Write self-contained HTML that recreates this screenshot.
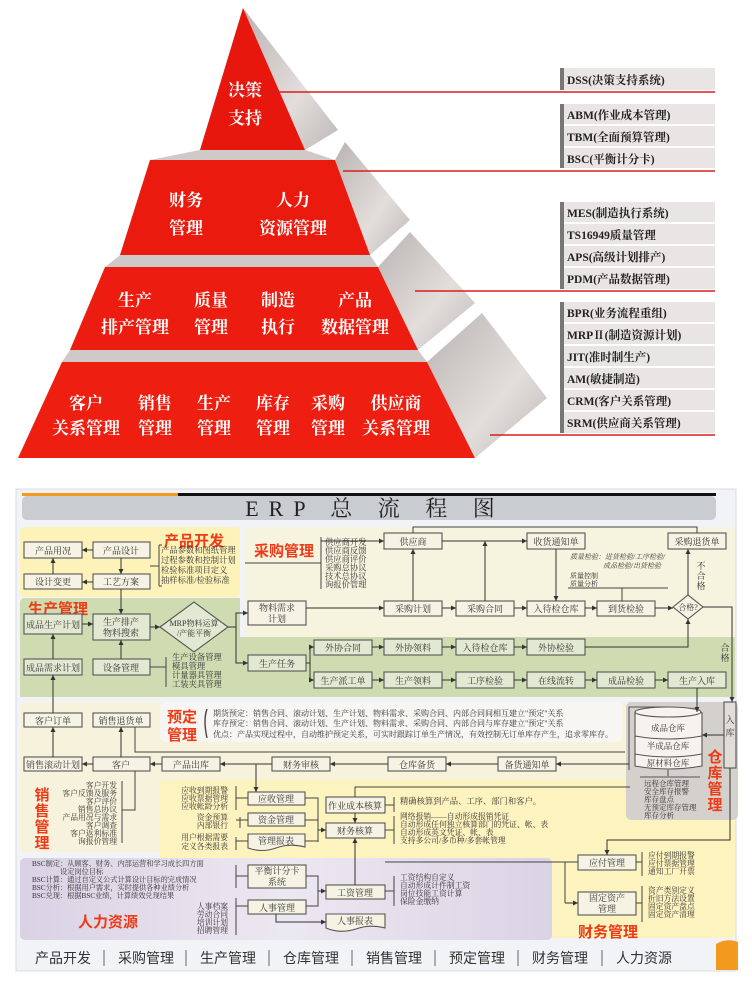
<!DOCTYPE html>
<html><head><meta charset="utf-8"><style>
html,body{margin:0;padding:0;background:#fff;}
svg{display:block;}
.s{font-family:"Liberation Serif","Noto Serif CJK SC",serif;}
.h{font-family:"Liberation Sans","Noto Sans CJK SC",sans-serif;}
</style></head><body>
<svg width="752" height="982" viewBox="0 0 752 982" xmlns="http://www.w3.org/2000/svg">
<defs>
<marker id="a" markerWidth="6" markerHeight="6" refX="5" refY="3" orient="auto" markerUnits="userSpaceOnUse"><path d="M0,0.5 L5,3 L0,5.5z" fill="#333"/></marker>
<linearGradient id="gr" x1="0" y1="0" x2="1" y2="1"><stop offset="0" stop-color="#b9b4b2"/><stop offset="0.6" stop-color="#e3dedc"/><stop offset="1" stop-color="#bdb8b6"/></linearGradient>
<linearGradient id="pu" x1="0" y1="0" x2="1" y2="0"><stop offset="0" stop-color="#d9d2e4"/><stop offset="0.5" stop-color="#ece8f1"/><stop offset="1" stop-color="#dad3e5"/></linearGradient>
</defs>

<!-- ===== PYRAMID ===== -->
<g>
<polygon points="200,150 305,150 335,160 150,160" fill="#cfcac8"/>
<polygon points="120,255 370,255 378,267 105,267" fill="#cfcac8"/>
<polygon points="70,350 418,350 427,362 62,362" fill="#cfcac8"/>
<polygon points="243,8 338,130 305,150" fill="url(#gr)"/>
<polygon points="335,160 345,142 410,220 370,255" fill="url(#gr)"/>
<polygon points="378,267 410,232 475,303 418,350" fill="url(#gr)"/>
<polygon points="427,362 482,313 547,398 475,458" fill="url(#gr)"/>
<polygon points="243,8 305,150 200,150" fill="#e8170e"/>
<polygon points="150,160 335,160 370,255 120,255" fill="#ea1a0f"/>
<polygon points="105,267 378,267 418,350 70,350" fill="#ec1c10"/>
<polygon points="62,362 427,362 475,458 18,458" fill="#ee1e10"/>
<g class="s" fill="#fff" font-size="17" font-weight="bold" text-anchor="middle">
<text x="245" y="96">决策</text><text x="245" y="124">支持</text>
<text x="186" y="206">财务</text><text x="186" y="234">管理</text>
<text x="293" y="206">人力</text><text x="293" y="234">资源管理</text>
<text x="135" y="306">生产</text><text x="135" y="333">排产管理</text>
<text x="211" y="306">质量</text><text x="211" y="333">管理</text>
<text x="278" y="306">制造</text><text x="278" y="333">执行</text>
<text x="355" y="306">产品</text><text x="355" y="333">数据管理</text>
<text x="86" y="409">客户</text><text x="86" y="434">关系管理</text>
<text x="155" y="409">销售</text><text x="155" y="434">管理</text>
<text x="214" y="409">生产</text><text x="214" y="434">管理</text>
<text x="273" y="409">库存</text><text x="273" y="434">管理</text>
<text x="328" y="409">采购</text><text x="328" y="434">管理</text>
<text x="396" y="409">供应商</text><text x="396" y="434">关系管理</text>
</g>
</g>
<!-- red leader lines -->
<g stroke="#d81e1e" stroke-width="1.6">
<line x1="225" y1="92" x2="715" y2="92"/>
<line x1="343" y1="171" x2="715" y2="171"/>
<line x1="415" y1="291" x2="715" y2="291"/>
<line x1="490" y1="435" x2="715" y2="435"/>
</g>
<!-- label boxes -->
<g class="s" font-size="11.5" font-weight="bold" fill="#222">
<g fill="#e9e5e4">
<rect x="560" y="68" width="155" height="22"/>
<rect x="560" y="104" width="155" height="20"/><rect x="560" y="126" width="155" height="20"/><rect x="560" y="148" width="155" height="20"/>
<rect x="560" y="202" width="155" height="20"/><rect x="560" y="224" width="155" height="20"/><rect x="560" y="246" width="155" height="20"/><rect x="560" y="268" width="155" height="21"/>
<rect x="560" y="302" width="155" height="20"/><rect x="560" y="324" width="155" height="20"/><rect x="560" y="346" width="155" height="20"/><rect x="560" y="368" width="155" height="20"/><rect x="560" y="390" width="155" height="20"/><rect x="560" y="412" width="155" height="21"/>
</g>
<g fill="#777">
<rect x="560" y="68" width="4" height="22"/>
<rect x="560" y="104" width="4" height="64"/>
<rect x="560" y="202" width="4" height="87"/>
<rect x="560" y="302" width="4" height="131"/>
</g>
<text x="567" y="84">DSS(决策支持系统)</text>
<text x="567" y="119">ABM(作业成本管理)</text>
<text x="567" y="141">TBM(全面预算管理)</text>
<text x="567" y="163">BSC(平衡计分卡)</text>
<text x="567" y="217">MES(制造执行系统)</text>
<text x="567" y="239">TS16949质量管理</text>
<text x="567" y="261">APS(高级计划排产)</text>
<text x="567" y="283">PDM(产品数据管理)</text>
<text x="567" y="317">BPR(业务流程重组)</text>
<text x="567" y="339">MRPⅡ(制造资源计划)</text>
<text x="567" y="361">JIT(准时制生产)</text>
<text x="567" y="383">AM(敏捷制造)</text>
<text x="567" y="405">CRM(客户关系管理)</text>
<text x="567" y="427">SRM(供应商关系管理)</text>
</g>

<!-- ===== ERP FLOW ===== -->
<rect x="16" y="489" width="720" height="482" fill="#f1f3f6" stroke="#d8dbe0"/>
<rect x="22" y="493" width="158" height="3" fill="#f39a1e"/>
<rect x="178" y="493" width="538" height="3" fill="#111"/>
<rect x="22" y="496" width="694" height="24" rx="5" fill="#c9ccd0"/>
<text class="s" x="375" y="516" font-size="22" text-anchor="middle" fill="#222" letter-spacing="10">ERP 总 流 程 图</text>

<!-- regions -->
<rect x="20" y="527" width="220" height="70" rx="5" fill="#fdf2b8"/>
<rect x="245" y="527" width="490" height="110" rx="5" fill="#f6f3df"/>
<path d="M25,598 H240 V637 H735 V697 H20 V603 Q20,598 25,598Z" fill="#cfdcb2"/>
<rect x="20" y="702" width="715" height="150" rx="5" fill="#f7f2dc"/>
<rect x="160" y="702" width="462" height="40" rx="5" fill="#f7f6f2"/>
<rect x="160" y="780" width="575" height="158" rx="5" fill="#fdf3be"/>
<rect x="20" y="858" width="532" height="82" rx="5" fill="url(#pu)"/>
<rect x="626" y="702" width="112" height="118" rx="5" fill="#d4d1cd"/>
<path d="M716,970 V944 A24,24 0 0 1 738,942 V970Z" fill="#f39a1e"/>

<!-- titles -->
<g class="h" fill="#ee3a16" font-size="15" font-weight="bold">
<text x="164" y="546">产品开发</text>
<text x="254" y="556">采购管理</text>
<text x="28" y="614">生产管理</text>
<text x="167" y="722">预定</text><text x="167" y="740">管理</text>
<text x="78" y="927">人力资源</text>
<text x="578" y="937">财务管理</text>
</g>
<g class="h" fill="#ee3a16" font-size="15" font-weight="bold" text-anchor="middle">
<text x="42" y="800">销</text><text x="42" y="816">售</text><text x="42" y="832">管</text><text x="42" y="848">理</text>
<text x="715" y="762">仓</text><text x="715" y="778">库</text><text x="715" y="794">管</text><text x="715" y="810">理</text>
</g>

<!-- nodes -->
<g fill="#f6f3e4" stroke="#555" stroke-width="1.1">
<rect x="24" y="542" width="58" height="16"/><rect x="93" y="542" width="57" height="16"/>
<rect x="24" y="574" width="58" height="15"/><rect x="93" y="574" width="57" height="15"/>
<rect x="24" y="614" width="58" height="20" fill="#e2e9d2"/><rect x="93" y="614" width="57" height="26" fill="#e2e9d2"/>
<rect x="24" y="659" width="58" height="16" fill="#e2e9d2"/><rect x="93" y="659" width="57" height="16" fill="#e2e9d2"/>
<polygon points="160,627 194,602 228,627 194,652" fill="#e2e9d2"/>
<rect x="248" y="601" width="58" height="24"/>
<rect x="248" y="655" width="58" height="16" fill="#e2e9d2"/>
<rect x="314" y="640" width="58" height="15" fill="#e2e9d2"/><rect x="314" y="672" width="58" height="16" fill="#e2e9d2"/>
<rect x="384" y="533" width="58" height="16"/><rect x="527" y="533" width="58" height="16"/><rect x="668" y="533" width="58" height="16"/>
<rect x="384" y="601" width="58" height="15"/><rect x="456" y="601" width="58" height="15"/><rect x="527" y="601" width="58" height="15"/><rect x="597" y="601" width="58" height="15"/>
<polygon points="673,607 688,595 703,607 688,619"/>
<rect x="384" y="639" width="58" height="16" fill="#e2e9d2"/><rect x="456" y="639" width="58" height="16" fill="#e2e9d2"/><rect x="527" y="639" width="58" height="16" fill="#e2e9d2"/>
<rect x="384" y="672" width="58" height="16" fill="#e2e9d2"/><rect x="456" y="672" width="58" height="16" fill="#e2e9d2"/><rect x="527" y="672" width="58" height="16" fill="#e2e9d2"/><rect x="597" y="672" width="58" height="16" fill="#e2e9d2"/><rect x="668" y="672" width="58" height="16" fill="#e2e9d2"/>
<rect x="24" y="713" width="58" height="14"/><rect x="93" y="713" width="57" height="14"/>
<rect x="24" y="757" width="58" height="14"/><rect x="93" y="757" width="57" height="14"/><rect x="162" y="757" width="58" height="14"/><rect x="272" y="757" width="58" height="14"/><rect x="388" y="757" width="58" height="14"/><rect x="498" y="757" width="58" height="14"/>
<rect x="724" y="702" width="12" height="66" fill="#e0ddd9"/>
<rect x="248" y="792" width="57" height="13"/><rect x="248" y="813" width="57" height="13"/>
<path d="M248,834 H305 V847 Q290,843 276,848 Q262,853 248,848Z"/>
<rect x="326" y="797" width="59" height="16"/><rect x="326" y="823" width="59" height="15"/>
<rect x="248" y="865" width="58" height="23"/><rect x="248" y="900" width="58" height="14"/>
<rect x="326" y="885" width="59" height="14"/>
<path d="M326,914 H385 V928 Q370,924 356,929 Q340,934 326,928Z"/>
<rect x="578" y="855" width="58" height="15"/><rect x="578" y="892" width="58" height="23"/>
</g>
<!-- warehouse cylinder -->
<g stroke="#555" stroke-width="1.1" fill="#f6f3ef">
<path d="M635,712 V766 Q668,772 702,766 V712"/>
<ellipse cx="668" cy="712" rx="33" ry="5"/>
<path d="M635,736 Q668,742 702,736 M635,754 Q668,760 702,754" fill="none"/>
<path d="M629,770 V707 H670 M668,770 V776 M640,777 H700" fill="none"/>
</g>

<!-- node text -->
<g class="s" font-size="9" fill="#333" text-anchor="middle">
<text x="53" y="554">产品用况</text><text x="121" y="554">产品设计</text>
<text x="53" y="585">设计变更</text><text x="121" y="585">工艺方案</text>
<text x="53" y="628">成品生产计划</text><text x="121" y="625">生产排产</text><text x="121" y="636">物料搜索</text>
<text x="53" y="671">成品需求计划</text><text x="121" y="671">设备管理</text>
<text x="194" y="626" font-size="8">MRP物料运算</text><text x="194" y="636" font-size="8">/产能平衡</text>
<text x="277" y="611">物料需求</text><text x="277" y="622">计划</text>
<text x="277" y="667">生产任务</text>
<text x="343" y="651">外协合同</text><text x="343" y="684">生产派工单</text>
<text x="413" y="545">供应商</text><text x="556" y="545">收货通知单</text><text x="697" y="545">采购退货单</text>
<text x="413" y="612">采购计划</text><text x="485" y="612">采购合同</text><text x="556" y="612">入待检仓库</text><text x="626" y="612">到货检验</text>
<text x="688" y="610" font-size="8">合格?</text>
<text x="413" y="651">外协领料</text><text x="485" y="651">入待检仓库</text><text x="556" y="651">外协检验</text>
<text x="413" y="684">生产领料</text><text x="485" y="684">工序检验</text><text x="556" y="684">在线流转</text><text x="626" y="684">成品检验</text><text x="697" y="684">生产入库</text>
<text x="53" y="724">客户订单</text><text x="121" y="724">销售退货单</text>
<text x="53" y="768">销售滚动计划</text><text x="121" y="768">客户</text><text x="191" y="768">产品出库</text><text x="301" y="768">财务审核</text><text x="417" y="768">仓库备货</text><text x="527" y="768">备货通知单</text>
<text x="668" y="731" font-size="8.5">成品仓库</text><text x="668" y="749" font-size="8.5">半成品仓库</text><text x="668" y="766" font-size="8.5">原材料仓库</text>
<text x="730" y="723">入</text><text x="730" y="736">库</text>
<text x="276" y="802">应收管理</text><text x="276" y="823">资金管理</text><text x="276" y="844">管理报表</text>
<text x="355" y="809">作业成本核算</text><text x="355" y="834">财务核算</text>
<text x="277" y="874">平衡计分卡</text><text x="277" y="885">系统</text><text x="277" y="911">人事管理</text>
<text x="355" y="896">工资管理</text><text x="355" y="924">人事报表</text>
<text x="607" y="866">应付管理</text><text x="607" y="901">固定资产</text><text x="607" y="912">管理</text>
<text x="701" y="569">不</text><text x="701" y="579">合</text><text x="701" y="589">格</text>
<text x="725" y="651">合</text><text x="725" y="661">格</text>
</g>

<!-- list texts -->
<g class="s" font-size="8.3" fill="#333">
<text x="161" y="553">产品参数和图纸管理</text><text x="161" y="563">过程参数和控制计划</text><text x="161" y="573">检验标准项目定义</text><text x="161" y="583">抽样标准/检验标准</text>
<text x="325" y="545">供应商开发</text><text x="325" y="553.5">供应商反馈</text><text x="325" y="562">供应商评价</text><text x="325" y="570.5">采购总协议</text><text x="325" y="579">技术总协议</text><text x="325" y="587.5">询报价管理</text>
<text x="172" y="660">生产设备管理</text><text x="172" y="669">模具管理</text><text x="172" y="678">计量器具管理</text><text x="172" y="687">工装夹具管理</text>
<text x="570" y="559" font-size="7" font-style="italic">质量检验：进货检验/工序检验/</text><text x="603" y="568" font-size="7" font-style="italic">成品检验/出货检验</text>
<text x="570" y="578" font-size="7">质量控制</text><text x="570" y="586" font-size="7">质量分析</text>
<text x="213" y="716" font-size="8">期货预定：销售合同、滚动计划、生产计划、物料需求、采购合同、内部合同间相互建立"预定"关系</text>
<text x="213" y="726" font-size="8">库存预定：销售合同、滚动计划、生产计划、物料需求、采购合同、内部合同与库存建立"预定"关系</text>
<text x="213" y="737" font-size="8">优点：产品实现过程中，自动维护预定关系，可实时跟踪订单生产情况，有效控制无订单库存产生，追求零库存。</text>
<text x="644" y="786" font-size="7.5">远程仓库管理</text><text x="644" y="794" font-size="7.5">安全库存报警</text><text x="644" y="802" font-size="7.5">库存盘点</text><text x="644" y="810" font-size="7.5">无预定库存管理</text><text x="644" y="818" font-size="7.5">库存分析</text>
<text x="400" y="804">精确核算到产品、工序、部门和客户。</text>
<text x="400" y="819" font-size="7.8">网络报销——自动形成报销凭证</text><text x="400" y="827" font-size="7.8">自动形成任何独立核算部门的凭证、帐、表</text><text x="400" y="835" font-size="7.8">自动形成英文凭证、帐、表</text><text x="400" y="843" font-size="7.8">支持多公司/多币种/多套帐管理</text>
<text x="400" y="880" font-size="7.8">工资结构自定义</text><text x="400" y="888" font-size="7.8">自动形成计件制工资</text><text x="400" y="896" font-size="7.8">岗位技能工资计算</text><text x="400" y="904" font-size="7.8">保险金缴纳</text>
<text x="648" y="858" font-size="7.8">应付到期报警</text><text x="648" y="866" font-size="7.8">应付票据管理</text><text x="648" y="874" font-size="7.8">通知工厂开票</text>
<text x="648" y="893" font-size="7.8">资产类别定义</text><text x="648" y="901" font-size="7.8">折旧方法设置</text><text x="648" y="909" font-size="7.8">固定资产盘点</text><text x="648" y="917" font-size="7.8">固定资产清理</text>
<text x="32" y="866" font-size="7.2">BSC制定：从顾客、财务、内部运营和学习成长四方面</text><text x="60" y="874" font-size="7.2">设定岗位目标</text>
<text x="32" y="882" font-size="7.2">BSC计算：通过自定义公式计算设计目标的完成情况</text><text x="32" y="890" font-size="7.2">BSC分析：根据用户需求，实时提供各种业绩分析</text><text x="32" y="898" font-size="7.2">BSC兑现：根据BSC业绩，计算绩效兑现结果</text>
</g>
<g class="s" font-size="7.8" fill="#333" text-anchor="end">
<text x="117" y="788">客户开发</text><text x="117" y="796">客户反馈及服务</text><text x="117" y="804">客户评价</text><text x="117" y="812">销售总协议</text><text x="117" y="820">产品用况与需求</text><text x="117" y="828">客户调查</text><text x="117" y="836">客户返利标准</text><text x="117" y="844">询报价管理</text>
<text x="228" y="793">应收到期报警</text><text x="228" y="801">应收票据管理</text><text x="228" y="809">应收帐龄分析</text>
<text x="228" y="820">资金预算</text><text x="228" y="828">内部银行</text>
<text x="228" y="840">用户根据需要</text><text x="228" y="849">定义各类报表</text>
<text x="228" y="909">人事档案</text><text x="228" y="917">劳动合同</text><text x="228" y="925">培训计划</text><text x="228" y="933">招聘管理</text>
</g>

<!-- brackets & plain lines -->
<g stroke="#444" stroke-width="1" fill="none">
<path d="M159,545 V586 M159,545 H162 M159,586 H162 M150,566 H159"/>
<path d="M321,537 V589 M321,563 H245"/>
<path d="M166,657 V687 M150,667 H166"/>
<path d="M207,709 Q203,720 207,738" stroke-width="1.4"/>
<path d="M568,588 H668 M622,588 V601"/>
<path d="M122,781 V843 M135,771 V810 H122"/>
<path d="M236,786 V810 M240,817 V828 M236,837 V850 M236,798 H248 M236,820 H248 M236,841 H248"/>
<path d="M236,898 V935 M236,906 H248"/>
<path d="M236,865 V888 M236,876 H248"/>
<path d="M394,797 V812 M385,805 H394"/>
<path d="M394,816 V844 M385,830 H394"/>
<path d="M394,876 V906 M385,891 H394"/>
<path d="M642,852 V876 M636,862 H642 M642,886 V922 M636,903 H642"/>
<path d="M305,798 H318 V842 M305,820 H318 M305,841 H318"/>
<path d="M697,533 V527 H413 V533"/>
<path d="M135,727 V752 H625"/>
<path d="M355,797 V787 H630"/>
<path d="M385,862 H578 M565,862 V903"/>
<path d="M306,876 H318 V906 H306"/>
</g>
<!-- arrows -->
<g stroke="#333" stroke-width="1" fill="none" marker-end="url(#a)">
<path d="M93,550 H82"/><path d="M53,574 V558"/><path d="M93,582 H82"/><path d="M121,558 V574"/><path d="M121,589 V614"/>
<path d="M82,624 H93"/><path d="M53,659 V634"/><path d="M121,659 V640"/><path d="M150,627 H160"/>
<path d="M228,627 H236 V613 H248"/><path d="M236,627 V663 H248"/>
<path d="M306,663 H310 V647 H314"/><path d="M310,663 V680 H314"/>
<path d="M306,608 H384"/><path d="M442,608 H456"/><path d="M514,608 H527"/><path d="M585,608 H597"/><path d="M655,608 H673"/>
<path d="M413,601 V549"/><path d="M442,541 H527"/><path d="M485,601 V541"/><path d="M556,549 V601"/>
<path d="M321,541 H384"/>
<path d="M688,595 V549"/><path d="M703,607 H732 V702"/>
<path d="M372,647 H384"/><path d="M442,647 H456"/><path d="M514,647 H527"/><path d="M585,647 H688 V619"/>
<path d="M372,680 H384"/><path d="M442,680 H456"/><path d="M514,680 H527"/><path d="M585,680 H597"/><path d="M655,680 H668"/>
<path d="M697,688 V712"/>
<path d="M53,713 V675"/><path d="M53,757 V727"/><path d="M121,757 V727"/>
<path d="M93,764 H82"/><path d="M162,764 H150"/><path d="M272,764 H220"/><path d="M388,764 H330"/><path d="M498,764 H446"/><path d="M629,764 H556"/>
<path d="M220,764 H256 V792"/><path d="M724,735 H702"/>
<path d="M318,830 H326"/><path d="M355,813 V823"/><path d="M355,885 V838"/>
<path d="M318,891 H326"/><path d="M276,914 V922 H326"/>
<path d="M730,768 V840 H607 V855"/><path d="M565,903 H578"/>
</g>

<!-- footer -->
<g class="h" font-size="14" fill="#333">
<text x="35" y="963">产品开发</text><text x="118" y="963">采购管理</text><text x="200" y="963">生产管理</text><text x="283" y="963">仓库管理</text><text x="366" y="963">销售管理</text><text x="449" y="963">预定管理</text><text x="532" y="963">财务管理</text><text x="616" y="963">人力资源</text>
</g>
<g stroke="#666" stroke-width="1">
<line x1="104" y1="950" x2="104" y2="966"/><line x1="186" y1="950" x2="186" y2="966"/><line x1="269" y1="950" x2="269" y2="966"/><line x1="352" y1="950" x2="352" y2="966"/><line x1="435" y1="950" x2="435" y2="966"/><line x1="518" y1="950" x2="518" y2="966"/><line x1="602" y1="950" x2="602" y2="966"/>
</g>
</svg>
</body></html>
